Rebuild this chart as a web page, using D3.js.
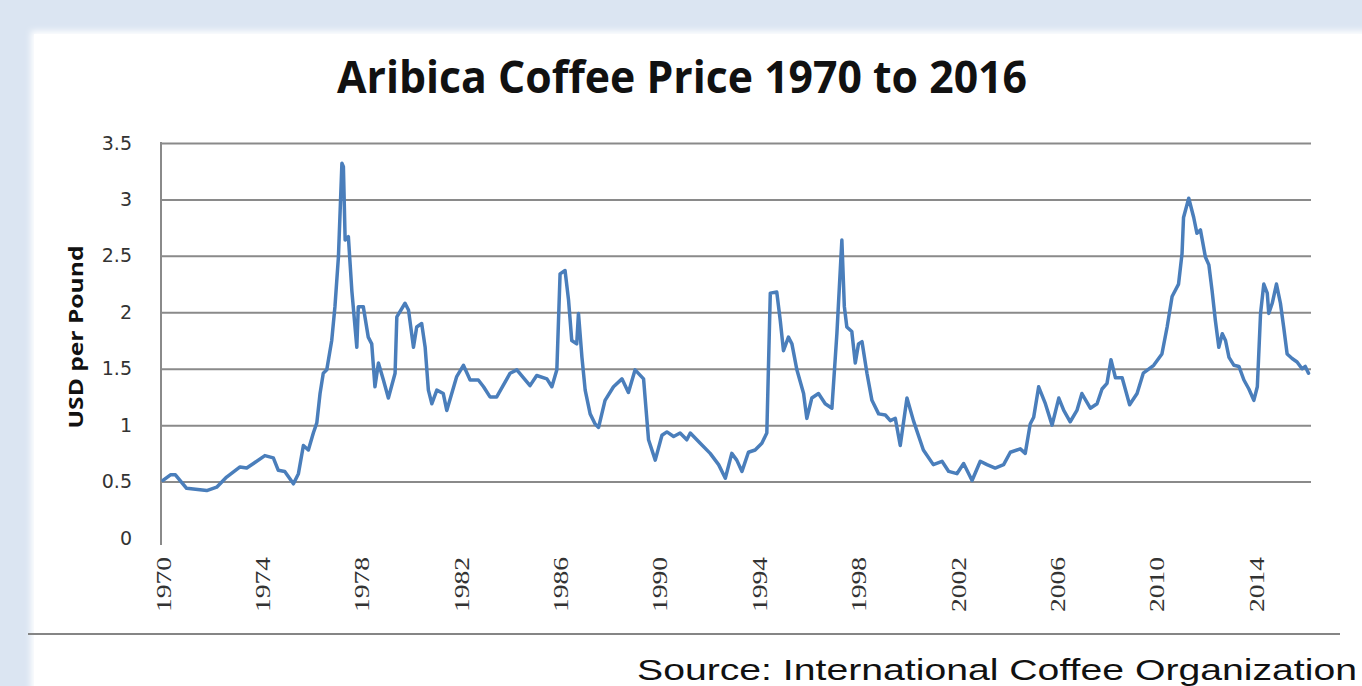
<!DOCTYPE html>
<html>
<head>
<meta charset="utf-8">
<script src="https://cdn.jsdelivr.net/npm/d3@7"></script>
<style>
  html, body { margin: 0; padding: 0; background: #dbe5f2; }
  svg { display: block; }
</style>
</head>
<body>
<svg id="chart" width="1362" height="686"></svg>
<script>
// ---- Data ----
const years = [
  1970.0,1970.3,1970.5,1970.95,1971.76,1972.16,1972.56,1973.1,1973.37,1973.64,
  1974.1,1974.44,1974.64,1974.9,1975.25,1975.45,1975.65,1975.85,1976.05,1976.19,
  1976.32,1976.45,1976.59,1976.79,1976.92,1977.06,1977.2,1977.26,1977.33,1977.46,
  1977.6,1977.8,1977.86,1978.06,1978.26,1978.4,1978.53,1978.67,1978.87,1979.07,
  1979.34,1979.41,1979.74,1979.88,1980.08,1980.21,1980.41,1980.55,1980.68,1980.82,
  1981.02,1981.28,1981.42,1981.62,1981.82,1982.09,1982.36,1982.69,1982.9,1983.16,
  1983.43,1983.97,1984.24,1984.77,1985.04,1985.45,1985.65,1985.85,1985.98,1986.18,
  1986.32,1986.45,1986.65,1986.72,1986.86,1986.99,1987.19,1987.39,1987.53,1987.79,
  1988.13,1988.47,1988.73,1989.0,1989.34,1989.54,1989.81,1990.08,1990.28,1990.55,
  1990.81,1991.08,1991.22,1991.62,1992.02,1992.36,1992.63,1992.89,1993.09,1993.3,
  1993.56,1993.83,1994.1,1994.3,1994.44,1994.7,1994.84,1994.97,1995.17,1995.31,
  1995.51,1995.78,1995.91,1996.11,1996.38,1996.65,1996.92,1997.12,1997.32,1997.42,
  1997.52,1997.72,1997.86,1997.99,1998.13,1998.33,1998.53,1998.8,1999.07,1999.27,
  1999.47,1999.67,1999.94,2000.2,2000.6,2001.0,2001.35,2001.62,2001.95,2002.22,
  2002.56,2002.89,2003.16,2003.49,2003.83,2004.1,2004.5,2004.7,2004.9,2005.04,
  2005.24,2005.51,2005.78,2006.05,2006.25,2006.51,2006.78,2006.98,2007.32,2007.59,
  2007.79,2007.99,2008.15,2008.33,2008.6,2008.9,2009.2,2009.45,2009.87,2010.2,
  2010.41,2010.61,2010.87,2011.01,2011.07,2011.28,2011.48,2011.61,2011.75,2011.95,
  2012.09,2012.22,2012.35,2012.49,2012.63,2012.76,2012.9,2013.1,2013.3,2013.5,
  2013.7,2013.9,2014.04,2014.17,2014.3,2014.44,2014.5,2014.64,2014.81,2014.97,
  2015.1,2015.24,2015.44,2015.64,2015.84,2015.97,2016.1
];
const prices = [
  0.51,0.56,0.56,0.44,0.42,0.45,0.54,0.63,0.62,0.66,
  0.73,0.71,0.60,0.59,0.48,0.57,0.82,0.78,0.93,1.02,
  1.28,1.46,1.49,1.75,2.05,2.49,3.32,3.29,2.64,2.67,
  2.19,1.69,2.05,2.05,1.78,1.72,1.34,1.55,1.40,1.24,
  1.46,1.96,2.08,2.02,1.69,1.87,1.90,1.69,1.31,1.19,
  1.31,1.28,1.13,1.28,1.43,1.53,1.40,1.40,1.34,1.25,
  1.25,1.46,1.49,1.35,1.44,1.41,1.34,1.49,2.34,2.37,
  2.11,1.75,1.72,1.99,1.60,1.31,1.10,1.01,0.98,1.22,
  1.34,1.41,1.29,1.49,1.41,0.87,0.69,0.91,0.94,0.90,
  0.93,0.87,0.93,0.84,0.75,0.65,0.53,0.75,0.69,0.59,
  0.76,0.78,0.84,0.93,2.17,2.18,1.93,1.66,1.78,1.72,
  1.49,1.28,1.06,1.24,1.28,1.19,1.15,1.81,2.64,2.05,
  1.87,1.83,1.55,1.72,1.74,1.46,1.22,1.10,1.09,1.04,
  1.06,0.82,1.24,1.04,0.78,0.65,0.68,0.59,0.57,0.66,
  0.51,0.68,0.65,0.62,0.65,0.76,0.79,0.75,1.01,1.07,
  1.34,1.19,1.00,1.24,1.13,1.03,1.13,1.28,1.15,1.19,
  1.32,1.37,1.58,1.42,1.42,1.18,1.28,1.46,1.53,1.63,
  1.87,2.14,2.25,2.52,2.84,3.01,2.84,2.70,2.73,2.49,
  2.42,2.19,1.93,1.69,1.81,1.75,1.60,1.53,1.52,1.40,
  1.32,1.22,1.34,1.99,2.25,2.17,1.99,2.08,2.25,2.08,
  1.87,1.63,1.59,1.56,1.50,1.52,1.46
];
const yTickValues = [0, 0.5, 1, 1.5, 2, 2.5, 3, 3.5];
const yTickLabels = ["0", "0.5", "1", "1.5", "2", "2.5", "3", "3.5"];
const xTickYears = [1970, 1974, 1978, 1982, 1986, 1990, 1994, 1998, 2002, 2006, 2010, 2014];
const titleText = "Aribica Coffee Price 1970 to 2016";
const yAxisTitle = "USD per Pound";
const sourceText = "Source: International Coffee Organization";

// ---- Layout ----
const svg = d3.select("#chart");
const W = 1362, H = 686;
const plotLeft = 161, plotRight = 1311, plotTop = 143, plotBottom = 538;

const defs = svg.append("defs");
const f = defs.append("filter").attr("id", "soft").attr("x", "-5%").attr("y", "-5%").attr("width", "110%").attr("height", "110%");
f.append("feGaussianBlur").attr("stdDeviation", 3);

svg.append("rect").attr("x", 0).attr("y", 0).attr("width", W).attr("height", H).attr("fill", "#dbe5f2");
svg.append("rect").attr("x", 31).attr("y", 31).attr("width", W + 20).attr("height", H + 20)
   .attr("fill", "#ffffff").attr("filter", "url(#soft)");
svg.append("rect").attr("x", 34).attr("y", 34).attr("width", W).attr("height", H).attr("fill", "#ffffff");

const x = d3.scaleLinear().domain([1970, 2016.2]).range([163, plotRight]);
const y = d3.scaleLinear().domain([0, 3.5]).range([plotBottom, plotTop]);

// Title
svg.append("text")
  .attr("x", 337).attr("y", 93)
  .attr("font-family", "'Open Sans', 'DejaVu Sans', sans-serif")
  .attr("font-weight", "bold")
  .attr("font-size", 45)
  .attr("fill", "#111")
  .attr("textLength", 690)
  .attr("lengthAdjust", "spacingAndGlyphs")
  .text(titleText);

// Y axis with gridlines
const yAxis = d3.axisLeft(y)
  .tickValues(yTickValues)
  .tickSize(-(plotRight - plotLeft))
  .tickPadding(29)
  .tickFormat((d, i) => yTickLabels[i]);
const gy = svg.append("g").attr("transform", `translate(${plotLeft},0)`).call(yAxis);
gy.select(".domain").remove();
gy.selectAll(".tick line")
  .attr("stroke", (d) => d === 0 ? "none" : "#8a8a8a")
  .attr("stroke-width", 2);
gy.selectAll(".tick text")
  .attr("font-family", "'DejaVu Sans', sans-serif")
  .attr("font-size", 19)
  .attr("fill", "#333");

// vertical axis line
svg.append("line")
  .attr("x1", plotLeft).attr("x2", plotLeft)
  .attr("y1", plotTop - 1).attr("y2", plotBottom + 7)
  .attr("stroke", "#8a8a8a").attr("stroke-width", 2);

// X axis labels
const xAxis = d3.axisBottom(x).tickValues(xTickYears).tickSize(0).tickFormat(d3.format("d"));
const gx = svg.append("g").attr("transform", `translate(0,${plotBottom})`).call(xAxis);
gx.select(".domain").remove();
gx.selectAll(".tick text")
  .attr("font-family", "'Liberation Serif', 'DejaVu Serif', serif")
  .attr("font-size", 20)
  .attr("fill", "#333")
  .attr("text-anchor", "end")
  .attr("transform", "translate(0,19) rotate(-90)")
  .attr("x", 0).attr("y", 0)
  .attr("dy", "0.35em")
  .attr("textLength", 55)
  .attr("lengthAdjust", "spacingAndGlyphs");

// Y axis title
svg.append("text")
  .attr("transform", "translate(83,337) rotate(-90)")
  .attr("text-anchor", "middle")
  .attr("font-family", "'Open Sans', 'DejaVu Sans', sans-serif")
  .attr("font-weight", "bold")
  .attr("font-size", 20)
  .attr("fill", "#111")
  .attr("textLength", 183)
  .attr("lengthAdjust", "spacingAndGlyphs")
  .text(yAxisTitle);

// Line
const pts = years.map((yr, i) => [yr, prices[i]]);
const line = d3.line().x(d => x(d[0])).y(d => y(d[1])).curve(d3.curveLinear);
svg.append("path")
  .datum(pts)
  .attr("d", line)
  .attr("fill", "none")
  .attr("stroke", "#4a7ebb")
  .attr("stroke-width", 3.5)
  .attr("stroke-linejoin", "round")
  .attr("stroke-linecap", "round");

// Divider line below the chart
svg.append("line")
  .attr("x1", 28).attr("x2", 1340)
  .attr("y1", 634).attr("y2", 634)
  .attr("stroke", "#858585").attr("stroke-width", 2);

// Source
svg.append("text")
  .attr("x", 637).attr("y", 680)
  .attr("font-family", "'Liberation Sans', Arial, sans-serif")
  .attr("font-size", 29)
  .attr("fill", "#111")
  .attr("textLength", 720)
  .attr("lengthAdjust", "spacingAndGlyphs")
  .text(sourceText);
</script>
</body>
</html>
